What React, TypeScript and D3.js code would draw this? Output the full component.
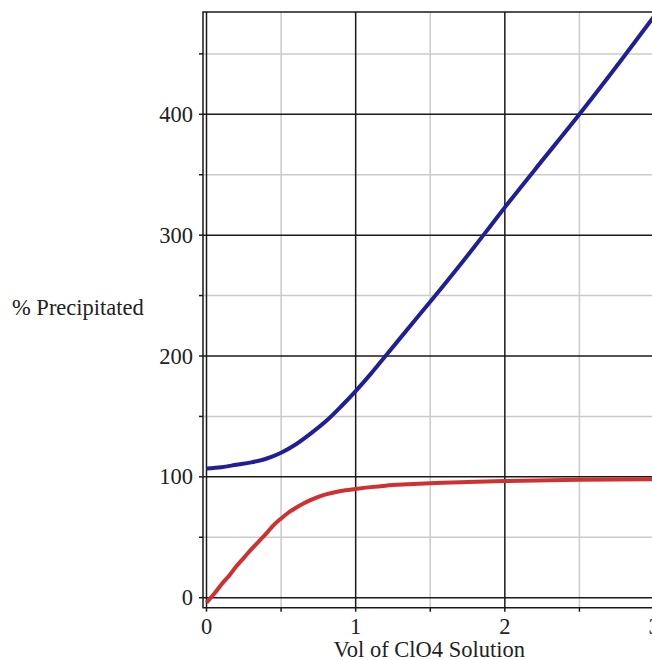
import React from "react";
import * as d3 from "d3";

const redX = [0, 0.05, 0.1, 0.15, 0.2, 0.25, 0.3, 0.35, 0.4, 0.45, 0.5, 0.55, 0.6, 0.65, 0.7, 0.75, 0.8, 0.9, 1.0, 1.1, 1.2, 1.35, 1.5, 1.75, 2.0, 2.5, 3.0];
const redY = [-4, 3, 11, 18, 26, 33, 40, 46.5, 53, 60, 65.5, 70.5, 74.5, 78, 81, 83.5, 85.5, 88.3, 90, 91.5, 92.7, 93.8, 94.7, 95.7, 96.5, 97.5, 98];
const blueX = [0, 0.1, 0.2, 0.3, 0.4, 0.5, 0.6, 0.7, 0.8, 0.9, 1.0, 1.1, 1.2, 1.4, 1.6, 1.8, 1.9, 2.0, 2.2, 2.5, 2.8, 3.0];
const blueY = [107, 108, 110, 112, 115, 120, 127, 136, 146, 158, 171, 185, 200, 230, 260, 291, 307, 323, 354, 400, 448, 481];
const xMajor = [0, 1, 2, 3];
const xMinor = [0.5, 1.5, 2.5];
const yMajor = [0, 100, 200, 300, 400];
const yMinor = [50, 150, 250, 350, 450];
const xTitle = "Vol of ClO4 Solution";
const yTitle = "% Precipitated";

export default function App() {
  const x = d3.scaleLinear().domain([0, 3]).range([206.5, 654]);
  const y = d3.scaleLinear().domain([0, 400]).range([597.7, 114.3]);
  const frameL = 203, frameT = 12, frameB = 607.7, frameR = 660;
  const line = d3.line<[number, number]>().x(d => x(d[0])).y(d => y(d[1])).curve(d3.curveMonotoneX);
  const red = redX.map((v, i) => [v, redY[i]] as [number, number]);
  const blue = blueX.map((v, i) => [v, blueY[i]] as [number, number]);
  const font = "'Liberation Serif', 'Times New Roman', serif";
  const fs = 22.5;
  return (
    <svg width={652} height={660} style={{ position: "absolute", left: 0, top: 0 }} fontFamily={font}>
      <rect width={652} height={660} fill="#fff" />
      {yMinor.map(v => (
        <line key={"ym" + v} x1={frameL} x2={frameR} y1={y(v)} y2={y(v)} stroke="#cbcbcb" strokeWidth={1.5} />
      ))}
      {xMinor.map(v => (
        <line key={"xm" + v} x1={x(v)} x2={x(v)} y1={frameT} y2={frameB} stroke="#cbcbcb" strokeWidth={1.5} />
      ))}
      {yMajor.map(v => (
        <line key={"yM" + v} x1={frameL} x2={frameR} y1={y(v)} y2={y(v)} stroke="#1a1a1a" strokeWidth={1.5} />
      ))}
      {xMajor.map(v => (
        <line key={"xM" + v} x1={x(v)} x2={x(v)} y1={frameT} y2={frameB} stroke="#1a1a1a" strokeWidth={1.5} />
      ))}
      <path d={`M${frameR},${frameT}H${frameL}V${frameB}H${frameR}`} fill="none" stroke="#1a1a1a" strokeWidth={1.5} />
      {[...yMajor, ...yMinor].map(v => (
        <line key={"yt" + v} x1={frameL - 4} x2={frameL} y1={y(v)} y2={y(v)} stroke="#1a1a1a" strokeWidth={1.5} />
      ))}
      {[...xMajor, ...xMinor].map(v => (
        <line key={"xt" + v} x1={x(v)} x2={x(v)} y1={frameB} y2={frameB + 4} stroke="#1a1a1a" strokeWidth={1.5} />
      ))}
      {yMajor.map(v => (
        <text key={"yl" + v} x={193} y={y(v) + 7.5} textAnchor="end" fontSize={fs} fill="#222">{v}</text>
      ))}
      {xMajor.map(v => (
        <text key={"xl" + v} x={x(v)} y={634} textAnchor="middle" fontSize={fs} fill="#222">{v}</text>
      ))}
      <text x={(206.5 + 652) / 2} y={657} textAnchor="middle" fontSize={fs} fill="#222">{xTitle}</text>
      <text x={12} y={315} fontSize={fs} fill="#222">{yTitle}</text>
      <path d={line(red) || ""} fill="none" stroke="#d03030" strokeWidth={4} strokeLinejoin="round" />
      <path d={line(blue) || ""} fill="none" stroke="#1f1f96" strokeWidth={4} strokeLinejoin="round" />
    </svg>
  );
}
